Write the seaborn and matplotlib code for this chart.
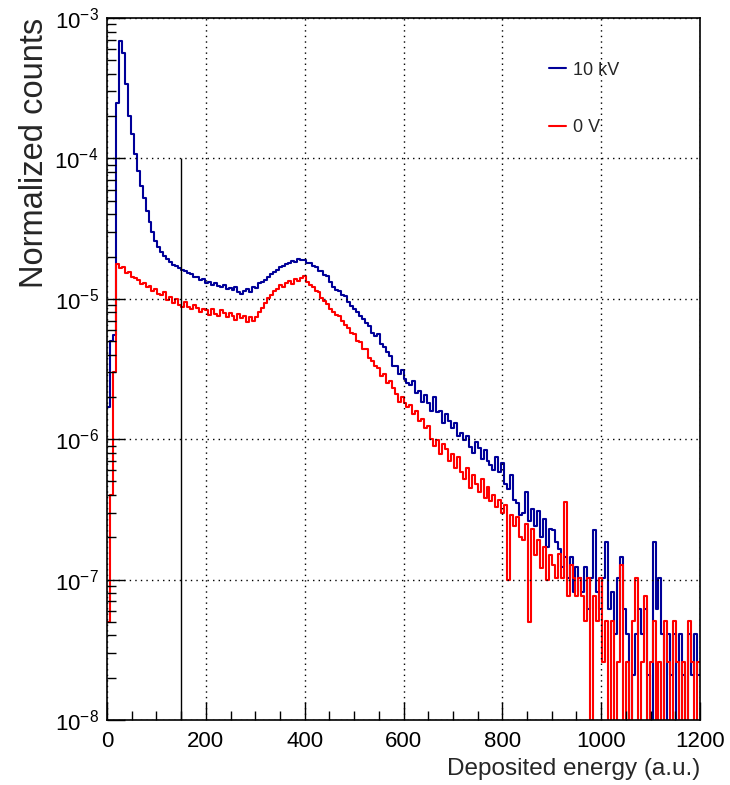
# REQUIREMENTS: numpy, pandas, matplotlib, seaborn
import numpy as np
import pandas as pd
import matplotlib
matplotlib.use("Agg")
import matplotlib.pyplot as plt
import seaborn as sns
from matplotlib.ticker import LogLocator, MultipleLocator, LogFormatterMathtext, NullFormatter

# Histogram binning (deposited energy, a.u.)
bin_width = 6
energy_max = 1200

# Normalized counts per bin, in units of 1e-6
counts_10kV = [
    1.7, 5.0, 5.5, 250, 690, 560, 340, 200, 150, 108,
    82, 64, 52, 42, 35, 30, 26, 23.2, 21.4, 20.3,
    19.1, 18.4, 17.4, 17.2, 16.5, 16.1, 15.7, 15.2, 15.0, 14.4,
    14.3, 13.7, 13.9, 13.0, 13.2, 12.6, 12.9, 12.3, 12.1, 12.5,
    11.8, 12.0, 11.5, 12.1, 11.2, 10.9, 11.3, 11.7, 11.2, 12.2,
    12.0, 12.9, 13.1, 13.6, 14.4, 14.9, 15.6, 16.0, 16.8, 17.0,
    17.6, 17.9, 18.6, 18.3, 19.3, 18.9, 18.8, 18.0, 17.9, 17.1,
    16.8, 15.9, 15.7, 14.8, 14.6, 13.1, 12.1, 11.6, 11.3, 10.7,
    10.5, 9.5, 8.9, 8.4, 8.1, 7.5, 7.2, 6.7, 6.4, 5.7,
    5.4, 5.6, 4.8, 4.5, 4.2, 3.9, 3.3, 3.3, 2.9, 3.1,
    2.7, 2.5, 2.45, 2.6, 2.15, 2.2, 1.85, 2.05, 1.8, 1.6,
    2.0, 1.55, 1.6, 1.3, 1.5, 1.35, 1.2, 1.3, 1.05, 1.1,
    0.98, 1.05, 0.88, 0.8, 0.95, 0.86, 0.72, 0.84, 0.7, 0.66,
    0.6, 0.75, 0.58, 0.68, 0.48, 0.44, 0.56, 0.37, 0.35, 0.29,
    0.3, 0.42, 0.26, 0.32, 0.24, 0.31, 0.2, 0.27, 0.17, 0.23,
    0.226, 0.185, 0.164, 0.123, 0.144, 0.103, 0.144, 0.082, 0.123, 0.103,
    0.082, 0.123, 0.062, 0.103, 0.226, 0.082, 0.062, 0.103, 0.185, 0.062,
    0.082, 0.041, 0.103, 0.144, 0.062, 0.041, 0, 0.021, 0.041, 0.062,
    0.041, 0.062, 0.021, 0, 0.185, 0.062, 0.103, 0.041, 0, 0.041,
    0.021, 0.041, 0, 0.041, 0.021, 0, 0.041, 0.021, 0.041, 0.021,
]

counts_0V = [
    0.05, 0.4, 3.0, 17.7, 16.6, 16.9, 15.2, 15.5, 14.4, 14.1,
    13.6, 12.7, 12.9, 12.1, 12.4, 11.3, 11.8, 10.9, 10.6, 11.2,
    9.8, 10.3, 9.4, 9.9, 9.0, 8.7, 9.5, 8.8, 8.5, 9.1,
    8.6, 8.0, 8.5, 8.3, 7.7, 8.4, 7.8, 7.6, 8.3, 7.9,
    7.4, 7.9, 7.6, 7.1, 7.8, 7.3, 7.5, 6.8, 7.4, 6.9,
    7.4, 8.0, 8.6, 9.4, 10.1, 10.6, 11.4, 11.7, 12.5, 12.2,
    12.9, 13.3, 12.8, 13.8, 13.4, 14.0, 14.5, 13.1, 12.6, 12.2,
    11.4, 11.1, 10.2, 9.6, 9.2, 8.5, 8.1, 7.7, 7.5, 6.9,
    6.5, 6.2, 5.7, 5.6, 5.0, 4.9, 4.4, 4.4, 3.8, 3.6,
    3.3, 3.2, 2.8, 2.9, 2.5, 2.6, 2.3, 2.1, 1.85, 2.0,
    1.8, 1.7, 1.75, 1.5, 1.6, 1.35, 1.4, 1.2, 1.25, 1.0,
    0.9, 0.98, 0.78, 0.92, 0.85, 0.7, 0.78, 0.62, 0.75, 0.58,
    0.52, 0.62, 0.45, 0.56, 0.48, 0.42, 0.52, 0.38, 0.46, 0.36,
    0.4, 0.33, 0.37, 0.3, 0.34, 0.10, 0.29, 0.24, 0.28, 0.2,
    0.19, 0.25, 0.05, 0.23, 0.15, 0.19, 0.12, 0.17, 0.1, 0.15,
    0.128, 0.102, 0.153, 0.102, 0.357, 0.077, 0.128, 0.102, 0.077, 0.102,
    0.077, 0.051, 0.102, 0, 0.077, 0.051, 0.102, 0.026, 0.051, 0,
    0.051, 0, 0.026, 0.128, 0, 0.026, 0, 0.051, 0.102, 0,
    0.026, 0.077, 0, 0.026, 0.051, 0, 0.026, 0, 0.051, 0.026,
    0, 0.051, 0.026, 0, 0.026, 0, 0.051, 0.026, 0, 0.026,
]
counts_unit = 1e-6

# Vertical cut line
cut_energy = 150
cut_top = 1e-4

edges = np.arange(0, energy_max + bin_width, bin_width)
centers = edges[:-1] + bin_width / 2

sns.set_theme(style="white")
plt.rcParams["font.family"] = ["Liberation Sans", "DejaVu Sans"]
plt.rcParams["mathtext.fontset"] = "custom"
plt.rcParams["mathtext.rm"] = "Liberation Sans"
plt.rcParams["mathtext.it"] = "Liberation Sans:italic"
plt.rcParams["mathtext.bf"] = "Liberation Sans:bold"

fig = plt.figure(figsize=(7.3, 7.85), dpi=100)
ax = fig.add_axes([107 / 730, 65 / 785, 593 / 730, 702 / 785])

ymin, ymax = 1e-8, 1e-3
for label, vals, color in [("10 kV", counts_10kV, "#000099"), ("0 V", counts_0V, "#ff0000")]:
    w = np.asarray(vals, dtype=float) * counts_unit
    w = np.where(w > 0, w, 1e-12)  # empty bins drop below the axis, like ROOT
    df = pd.DataFrame({"energy": centers, "counts": w})
    sns.histplot(data=df, x="energy", weights="counts", bins=list(edges),
                 element="step", fill=False, color=color, linewidth=1.5,
                 alpha=1, ax=ax, label=label)

ax.set_yscale("log")
ax.set_xlim(0, energy_max)
ax.set_ylim(ymin, ymax)

ax.vlines(cut_energy, ymin, cut_top, color="black", linewidth=1.0)

# ROOT-like axes
ax.grid(True, which="major", color="black", linestyle=(0, (1, 3)), linewidth=1.0)
ax.set_axisbelow(False)
for sp in ax.spines.values():
    sp.set_color("black")
    sp.set_linewidth(1.2)

ax.xaxis.set_major_locator(MultipleLocator(200))
ax.xaxis.set_minor_locator(MultipleLocator(50))
ax.yaxis.set_major_locator(LogLocator(base=10))
ax.yaxis.set_minor_locator(LogLocator(base=10, subs=np.arange(2, 10)))
ax.yaxis.set_major_formatter(LogFormatterMathtext())
ax.yaxis.set_minor_formatter(NullFormatter())

ax.tick_params(which="major", direction="in", length=13, width=1.0, colors="black",
               labelsize=16, bottom=True, left=True, top=False, right=False)
ax.tick_params(which="minor", direction="in", length=6.5, width=1.0, colors="black",
               bottom=True, left=True, top=False, right=False)
ax.tick_params(axis="x", which="major", pad=8)
ax.tick_params(axis="y", which="major", pad=6)

ax.set_xlabel("Deposited energy (a.u.)", fontsize=17.5, loc="right", labelpad=4)
ax.set_ylabel("Normalized counts", fontsize=23.5, loc="top", labelpad=3)

ax.legend(loc="upper left", bbox_to_anchor=(0.733, 0.948), frameon=False,
          fontsize=13, handlelength=0.95, handletextpad=0.4, labelspacing=2.25,
          borderaxespad=0)

fig.savefig("out.png", dpi=100)
